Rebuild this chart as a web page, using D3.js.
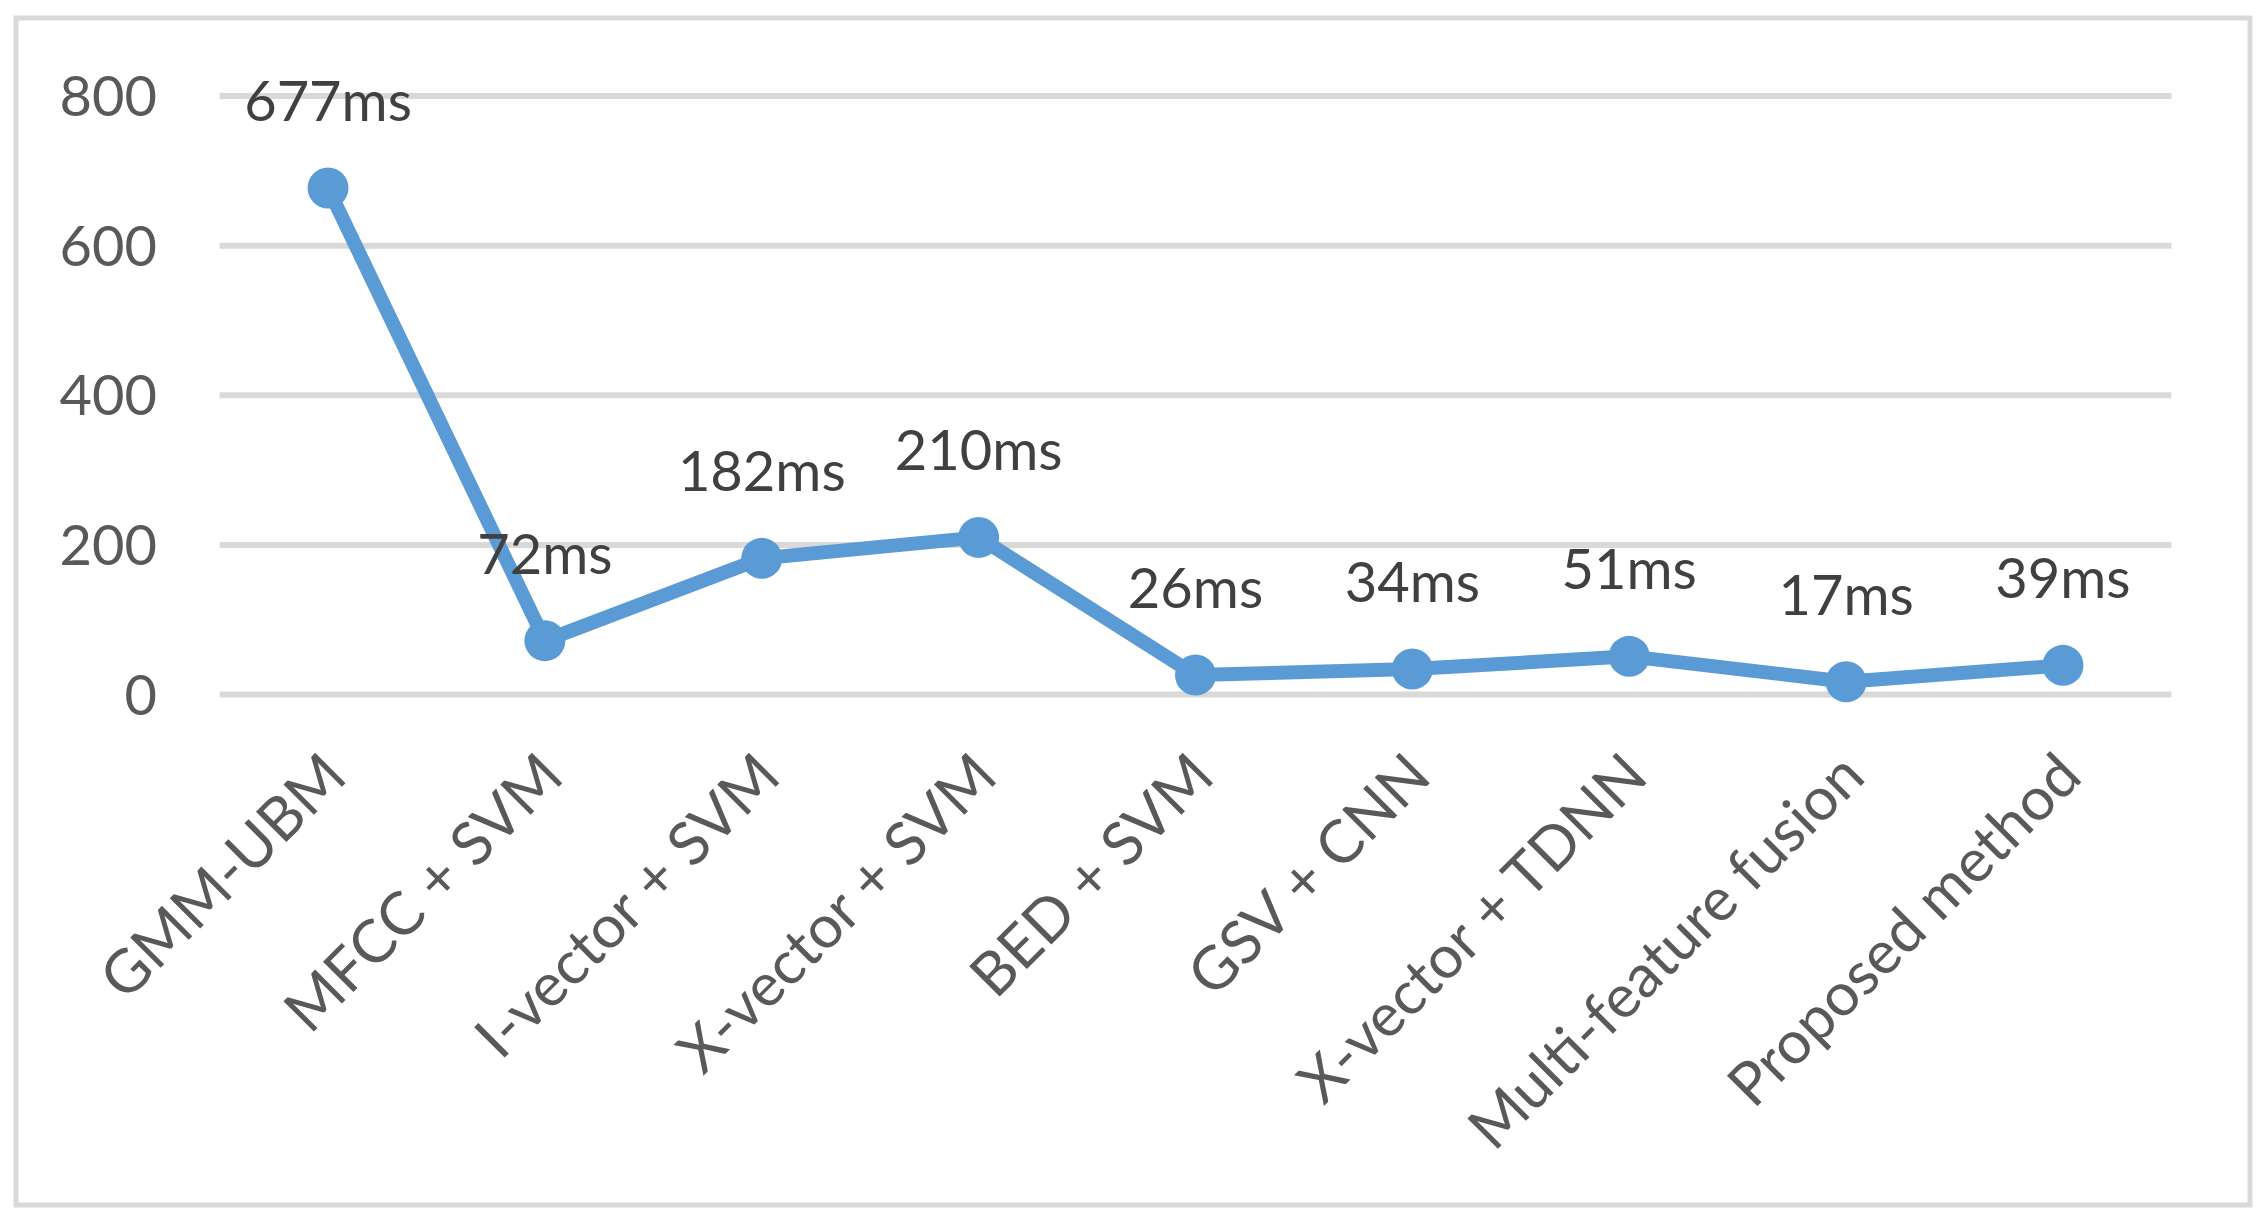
<!DOCTYPE html>
<html>
<head>
    <meta charset="utf-8">
    <title>Recognition time</title>
    <style>
        body {
            margin: 0;
            padding: 0;
            background-color: #fff;
        }

        text {
            font-family: 'Lato', 'Open Sans', sans-serif;
        }
    </style>
</head>
<body>
    <div id="chart"></div>

    <script src="https://d3js.org/d3.v7.min.js"></script>
    <script>
        // chart data
        const methods = ["GMM-UBM", "MFCC + SVM", "I-vector + SVM", "X-vector + SVM", "BED + SVM",
            "GSV + CNN", "X-vector + TDNN", "Multi-feature fusion", "Proposed method"];
        const times = [677, 72, 182, 210, 26, 34, 51, 17, 39];
        const yTicks = [0, 200, 400, 600, 800];

        const width = 2267;
        const height = 1231;

        const svg = d3.select("#chart")
            .append("svg")
            .attr("width", width)
            .attr("height", height);

        // outer frame
        svg.append("rect")
            .attr("x", 16)
            .attr("y", 18)
            .attr("width", 2234)
            .attr("height", 1187)
            .attr("fill", "#fff")
            .attr("stroke", "#d9d9d9")
            .attr("stroke-width", 5);

        const x = d3.scalePoint()
            .domain(methods)
            .range([219.6, 2171.4])
            .padding(0.5);

        const y = d3.scaleLinear()
            .domain([0, 800])
            .range([694.5, 96]);

        // gridlines
        svg.append("g")
            .selectAll("line")
            .data(yTicks)
            .enter()
            .append("line")
            .attr("x1", 219.6)
            .attr("x2", 2171.4)
            .attr("y1", d => y(d))
            .attr("y2", d => y(d))
            .attr("stroke", "#d9d9d9")
            .attr("stroke-width", 6);

        // y labels
        svg.append("g")
            .selectAll("text")
            .data(yTicks)
            .enter()
            .append("text")
            .attr("x", 157)
            .attr("y", d => y(d))
            .attr("dy", "0.36em")
            .attr("text-anchor", "end")
            .attr("font-size", 56)
            .attr("fill", "#595959")
            .text(d => d);

        // x labels, rotated
        svg.append("g")
            .selectAll("text")
            .data(methods)
            .enter()
            .append("text")
            .attr("transform", d => `translate(${x(d) + 6},764) rotate(-45)`)
            .attr("dy", "0.36em")
            .attr("text-anchor", "end")
            .attr("font-size", 60)
            .attr("fill", "#595959")
            .text(d => d);

        const line = d3.line()
            .x((d, i) => x(methods[i]))
            .y(d => y(d));

        svg.append("path")
            .datum(times)
            .attr("d", line)
            .attr("fill", "none")
            .attr("stroke", "#5b9bd5")
            .attr("stroke-width", 14)
            .attr("stroke-linejoin", "round");

        svg.append("g")
            .selectAll("circle")
            .data(times)
            .enter()
            .append("circle")
            .attr("cx", (d, i) => x(methods[i]))
            .attr("cy", d => y(d))
            .attr("r", 20.5)
            .attr("fill", "#5b9bd5");

        // data labels
        svg.append("g")
            .selectAll("text")
            .data(times)
            .enter()
            .append("text")
            .attr("x", (d, i) => x(methods[i]))
            .attr("y", d => y(d) - 67)
            .attr("text-anchor", "middle")
            .attr("font-size", 56)
            .attr("fill", "#404040")
            .text(d => d + "ms");
    </script>
</body>
</html>
